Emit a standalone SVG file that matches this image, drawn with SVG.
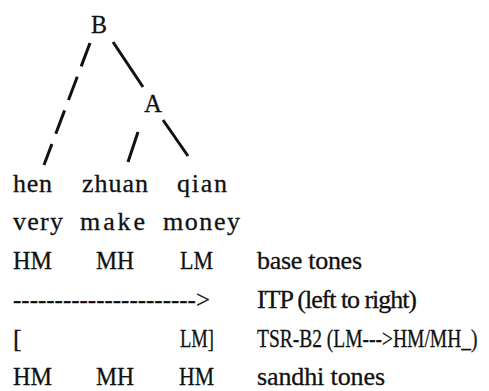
<svg xmlns="http://www.w3.org/2000/svg" width="489" height="391" viewBox="0 0 489 391">
<style>
  text { font-family: "Liberation Serif", "Times New Roman", serif; font-size: 26px; fill: #111; stroke: #111; stroke-width: 0.3; }
  .edge { stroke: #111; stroke-width: 3; fill: none; stroke-linecap: butt; }
  .dash { stroke-dasharray: 25 11; }
</style>
<rect width="489" height="391" fill="#fff"/>
<g id="connectors">
  <line class="edge dash" x1="90" y1="43" x2="44" y2="165"/>
  <line class="edge" x1="113" y1="42" x2="143" y2="87"/>
  <line class="edge" x1="138" y1="132" x2="128" y2="162"/>
  <line class="edge" x1="163" y1="120" x2="188" y2="156"/>
</g>
<g id="node-B"><text x="91" y="33" textLength="16" lengthAdjust="spacingAndGlyphs">B</text></g>
<g id="node-A"><text x="144" y="112" textLength="18" lengthAdjust="spacingAndGlyphs">A</text></g>
<g id="node-hen"><text x="13" y="192" textLength="39">hen</text></g>
<g id="node-zhuan"><text x="82" y="192" textLength="66">zhuan</text></g>
<g id="node-qian"><text x="177" y="192" textLength="50">qian</text></g>
<g id="glosses">
  <text x="13" y="230" textLength="50">very</text>
  <text x="80" y="230" textLength="65">make</text>
  <text x="163" y="230" textLength="77">money</text>
</g>
<g id="base-row">
  <text x="13" y="269" textLength="39" lengthAdjust="spacingAndGlyphs">HM</text>
  <text x="96" y="269" textLength="38" lengthAdjust="spacingAndGlyphs">MH</text>
  <text x="180" y="269" textLength="33" lengthAdjust="spacingAndGlyphs">LM</text>
  <text x="257" y="269" textLength="105">base  tones</text>
</g>
<g id="itp-row">
  <text x="13" y="308" textLength="197" lengthAdjust="spacingAndGlyphs">----------------------&gt;</text>
  <text x="257" y="308" textLength="160">ITP  (left  to  right)</text>
</g>
<g id="tsr-row">
  <text x="13" y="347">[</text>
  <text x="180" y="347" textLength="34" lengthAdjust="spacingAndGlyphs">LM]</text>
  <text transform="translate(257,347) scale(0.75,1)" x="0" y="0">TSR-B2 (LM---&gt;HM/MH_)</text>
</g>
<g id="sandhi-row">
  <text x="13" y="385" textLength="39" lengthAdjust="spacingAndGlyphs">HM</text>
  <text x="96" y="385" textLength="38" lengthAdjust="spacingAndGlyphs">MH</text>
  <text x="179" y="385" textLength="35" lengthAdjust="spacingAndGlyphs">HM</text>
  <text x="257" y="385" textLength="128">sandhi  tones</text>
</g>
</svg>
